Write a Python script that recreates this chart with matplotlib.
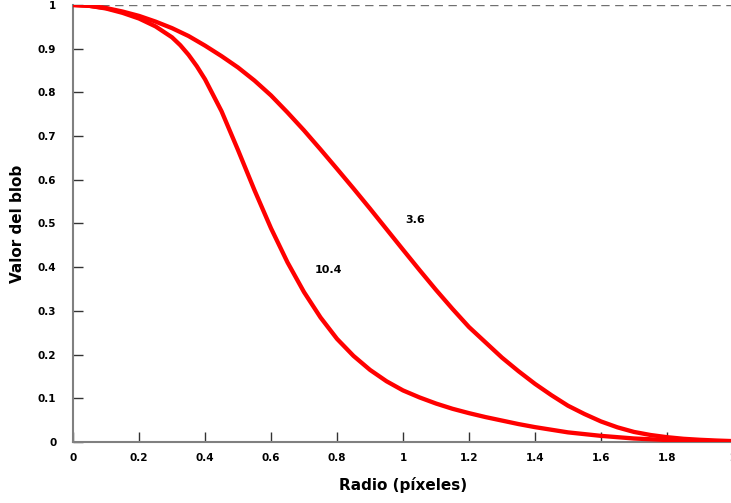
import matplotlib
matplotlib.use("Agg")
import matplotlib.pyplot as plt

# Curve "3.6": radius (pixels) and blob value
radius_36 = [0.0, 0.05, 0.1, 0.15, 0.2, 0.25, 0.3, 0.35, 0.4, 0.45, 0.5, 0.55, 0.6, 0.65,
             0.7, 0.75, 0.8, 0.85, 0.9, 0.95, 1.0, 1.05, 1.1, 1.15, 1.2, 1.25, 1.3, 1.35,
             1.4, 1.45, 1.5, 1.55, 1.6, 1.65, 1.7, 1.75, 1.8, 1.85, 1.9, 1.95, 2.0]
blob_36 = [1.000, 0.998, 0.993, 0.985, 0.975, 0.962, 0.947, 0.929, 0.907, 0.883, 0.857, 0.827,
           0.793, 0.754, 0.713, 0.6695, 0.625, 0.580, 0.534, 0.487, 0.440, 0.3935, 0.348,
           0.3045, 0.263, 0.228, 0.193, 0.162, 0.133, 0.107, 0.083, 0.064, 0.047, 0.0335,
           0.023, 0.016, 0.011, 0.0073, 0.005, 0.0033, 0.002]

# Curve "10.4"
radius_104 = [0.0, 0.05, 0.1, 0.15, 0.2, 0.25, 0.3, 0.325, 0.35, 0.375, 0.4, 0.45, 0.5, 0.55,
              0.6, 0.65, 0.7, 0.75, 0.8, 0.85, 0.9, 0.95, 1.0, 1.05, 1.1, 1.15, 1.2, 1.25,
              1.3, 1.35, 1.4, 1.5, 1.6, 1.7, 1.8, 1.9, 2.0]
blob_104 = [1.000, 0.998, 0.992, 0.982, 0.969, 0.951, 0.926, 0.908, 0.886, 0.860, 0.830, 0.757,
            0.668, 0.576, 0.489, 0.411, 0.343, 0.285, 0.236, 0.197, 0.165, 0.139, 0.118,
            0.102, 0.088, 0.076, 0.066, 0.057, 0.049, 0.041, 0.034, 0.022, 0.014, 0.008,
            0.0045, 0.0025, 0.001]

x_ticks = [0, 0.2, 0.4, 0.6, 0.8, 1.0, 1.2, 1.4, 1.6, 1.8, 2.0]
x_tick_labels = ["0", "0.2", "0.4", "0.6", "0.8", "1", "1.2", "1.4", "1.6", "1.8", "2"]
y_ticks = [0, 0.1, 0.2, 0.3, 0.4, 0.5, 0.6, 0.7, 0.8, 0.9, 1.0]
y_tick_labels = ["0", "0.1", "0.2", "0.3", "0.4", "0.5", "0.6", "0.7", "0.8", "0.9", "1"]

label_36 = "3.6"
label_104 = "10.4"

plt.rcParams['font.family'] = ['DejaVu Sans']

fig = plt.figure(figsize=(7.31, 5.03), dpi=100)
ax = fig.add_axes([0.0999, 0.1213, 0.9028, 0.8688])

ax.plot(radius_36, blob_36, color="#ff0000", lw=3.1, solid_capstyle="round",
        solid_joinstyle="round", zorder=3)
ax.plot(radius_104, blob_104, color="#ff0000", lw=3.1, solid_capstyle="round",
        solid_joinstyle="round", zorder=3)

ax.axhline(1.0, color="#707070", lw=1.0, ls=(0, (6, 4)), zorder=1)

ax.set_xlim(0, 2)
ax.set_ylim(0, 1)

for s in ["top", "right"]:
    ax.spines[s].set_visible(False)
for s in ["left", "bottom"]:
    ax.spines[s].set_color("#808080")
    ax.spines[s].set_linewidth(1.5)

ax.set_xticks(x_ticks)
ax.set_xticklabels(x_tick_labels, fontweight="bold", fontsize=7.5)
ax.set_yticks(y_ticks)
ax.set_yticklabels(y_tick_labels, fontweight="bold", fontsize=7.5)
ax.tick_params(axis="both", direction="in", length=7, width=1.0, color="#333333")
ax.tick_params(axis="x", pad=8)
ax.tick_params(axis="y", pad=12)

ax.set_xlabel("Radio (píxeles)", fontweight="bold", fontsize=11, labelpad=10)
ax.set_ylabel("Valor del blob", fontweight="bold", fontsize=11, labelpad=9)

ax.text(1.036, 0.508, label_36, fontweight="bold", fontsize=8, ha="center", va="center")
ax.text(0.773, 0.394, label_104, fontweight="bold", fontsize=8, ha="center", va="center")

fig.savefig("out.png", dpi=100)
